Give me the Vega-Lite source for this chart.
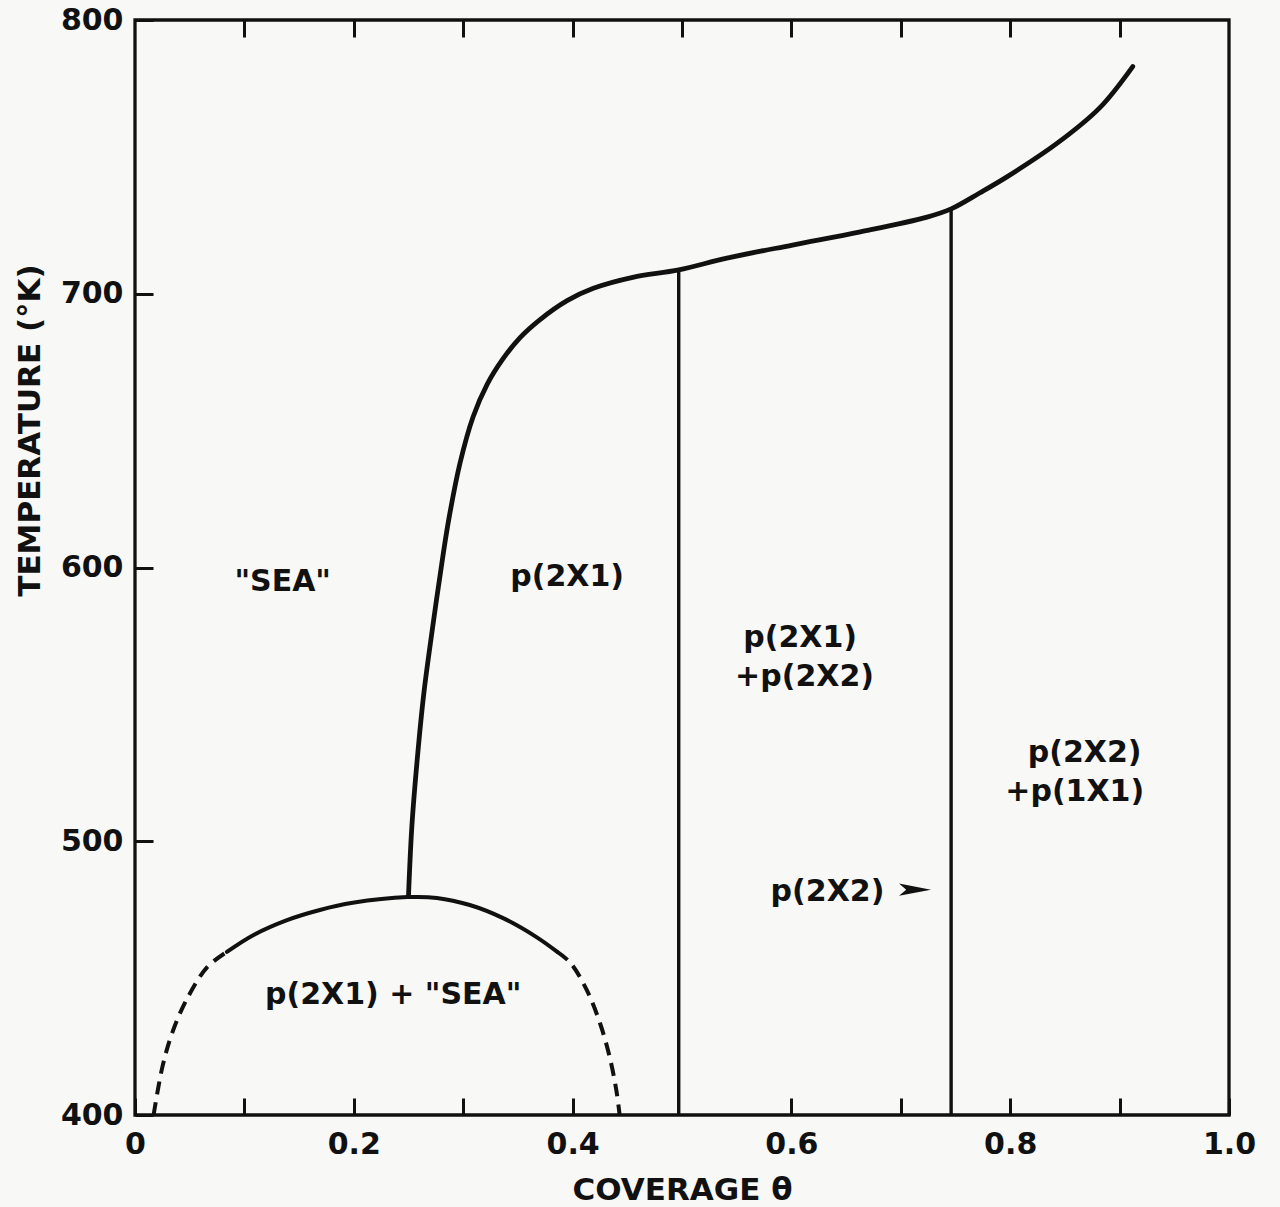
{
  "$schema": "https://vega.github.io/schema/vega-lite/v6.json",
  "width": 1094,
  "height": 1095,
  "autosize": {"type": "none"},
  "padding": {"left": 135, "top": 20, "right": 51, "bottom": 92},
  "background": "#f8f8f6",
  "config": {
    "view": {"stroke": "#111111", "strokeWidth": 3.3},
    "font": "DejaVu Sans",
    "axis": {
      "grid": false,
      "domain": false,
      "tickColor": "#111111",
      "tickWidth": 3,
      "labelColor": "#111111",
      "labelFont": "DejaVu Sans",
      "labelFontWeight": "bold",
      "labelFontSize": 30,
      "labelFlush": false,
      "labelOverlap": false,
      "titleColor": "#111111",
      "titleFont": "DejaVu Sans",
      "titleFontWeight": "bold",
      "titleFontSize": 31
    }
  },
  "resolve": {"axis": {"x": "independent", "y": "independent"}},
  "datasets": {
    "boundary": [
      {"x": 0.25, "t": 480},
      {"x": 0.253, "t": 505},
      {"x": 0.258, "t": 530},
      {"x": 0.264, "t": 554},
      {"x": 0.272, "t": 578},
      {"x": 0.281, "t": 603},
      {"x": 0.287, "t": 618},
      {"x": 0.297, "t": 638},
      {"x": 0.309, "t": 655},
      {"x": 0.322, "t": 667},
      {"x": 0.336, "t": 676},
      {"x": 0.352, "t": 684},
      {"x": 0.37, "t": 690.5},
      {"x": 0.395, "t": 697.5},
      {"x": 0.419, "t": 702},
      {"x": 0.455, "t": 706},
      {"x": 0.497, "t": 708.7},
      {"x": 0.541, "t": 713},
      {"x": 0.601, "t": 717.8},
      {"x": 0.663, "t": 722.6},
      {"x": 0.724, "t": 728},
      {"x": 0.746, "t": 731},
      {"x": 0.772, "t": 736.8},
      {"x": 0.797, "t": 742.7},
      {"x": 0.843, "t": 755},
      {"x": 0.882, "t": 768},
      {"x": 0.912, "t": 783}
    ],
    "dome": [
      {"part": "left", "x": 0.017, "t": 400},
      {"part": "left", "x": 0.025, "t": 417.5},
      {"part": "left", "x": 0.034, "t": 430},
      {"part": "left", "x": 0.047, "t": 442},
      {"part": "left", "x": 0.066, "t": 454},
      {"part": "left", "x": 0.084, "t": 459.6},
      {"part": "top", "x": 0.084, "t": 459.6},
      {"part": "top", "x": 0.108, "t": 465.7},
      {"part": "top", "x": 0.139, "t": 471.2},
      {"part": "top", "x": 0.169, "t": 474.9},
      {"part": "top", "x": 0.199, "t": 477.5},
      {"part": "top", "x": 0.249, "t": 479.6},
      {"part": "top", "x": 0.276, "t": 479.3},
      {"part": "top", "x": 0.306, "t": 476.7},
      {"part": "top", "x": 0.336, "t": 472},
      {"part": "top", "x": 0.367, "t": 465},
      {"part": "top", "x": 0.386, "t": 459.6},
      {"part": "right", "x": 0.386, "t": 459.6},
      {"part": "right", "x": 0.398, "t": 455.6},
      {"part": "right", "x": 0.413, "t": 445.6},
      {"part": "right", "x": 0.425, "t": 433.6},
      {"part": "right", "x": 0.434, "t": 421},
      {"part": "right", "x": 0.44, "t": 409},
      {"part": "right", "x": 0.443, "t": 400}
    ],
    "phaseLines": [
      {"x": 0.497, "t": 400, "t2": 708.7},
      {"x": 0.746, "t": 400, "t2": 731}
    ],
    "regions": [
      {"label": "\"SEA\"", "x": 0.135, "t": 594.7},
      {"label": "p(2X1)", "x": 0.395, "t": 596.5},
      {"label": "p(2X1)", "x": 0.608, "t": 574.2},
      {"label": "+p(2X2)", "x": 0.612, "t": 560},
      {"label": "p(2X2)", "x": 0.868, "t": 532.2},
      {"label": "+p(1X1)", "x": 0.859, "t": 518},
      {"label": "p(2X2)", "x": 0.633, "t": 481.5},
      {"label": "p(2X1) + \"SEA\"", "x": 0.236, "t": 443.8}
    ],
    "pointer": [
      {"x": 0.713, "t": 482.3}
    ]
  },
  "layer": [
    {
      "data": {"name": "boundary"},
      "mark": {"type": "line", "interpolate": "catmull-rom", "color": "#111111", "strokeWidth": 4.8, "strokeCap": "round"},
      "encoding": {
        "x": {
          "field": "x",
          "type": "quantitative",
          "scale": {"domain": [0, 1], "nice": false, "zero": false},
          "axis": {
            "orient": "bottom",
            "values": [0, 0.1, 0.2, 0.3, 0.4, 0.6, 0.7, 0.8, 0.9, 1],
            "labelExpr": "datum.value == 0 ? '0' : (round(datum.value * 10) % 2 == 0 ? format(datum.value, '.1f') : '')",
            "tickSize": -17,
            "labelPadding": 31,
            "title": "COVERAGE   θ",
            "titleY": 84,
            "titleBaseline": "alphabetic"
          }
        },
        "y": {
          "field": "t",
          "type": "quantitative",
          "scale": {"domain": [400, 800], "nice": false, "zero": false},
          "axis": {
            "orient": "left",
            "values": [400, 500, 600, 700, 800],
            "tickSize": -18,
            "labelPadding": 30,
            "labelBaseline": "middle",
            "title": "TEMPERATURE (°K)",
            "titleX": -96,
            "titleY": 410,
            "titleBaseline": "alphabetic",
            "titleAngle": -90
          }
        }
      }
    },
    {
      "data": {"name": "dome"},
      "transform": [{"filter": "datum.part == 'top'"}],
      "mark": {"type": "line", "interpolate": "catmull-rom", "color": "#111111", "strokeWidth": 4, "strokeCap": "round"},
      "encoding": {
        "x": {
          "field": "x",
          "type": "quantitative",
          "axis": {
            "orient": "top",
            "values": [0.1, 0.2, 0.3, 0.4, 0.5, 0.6, 0.7, 0.8, 0.9],
            "labels": false,
            "tickSize": -17,
            "title": null
          }
        },
        "y": {"field": "t", "type": "quantitative", "axis": null}
      }
    },
    {
      "data": {"name": "dome"},
      "transform": [{"filter": "datum.part != 'top'"}],
      "mark": {"type": "line", "interpolate": "catmull-rom", "color": "#111111", "strokeWidth": 4, "strokeDash": [13, 8]},
      "encoding": {
        "x": {"field": "x", "type": "quantitative", "axis": null},
        "y": {"field": "t", "type": "quantitative", "axis": null},
        "detail": {"field": "part"}
      }
    },
    {
      "data": {"name": "phaseLines"},
      "mark": {"type": "rule", "color": "#111111", "strokeWidth": 3.4},
      "encoding": {
        "x": {"field": "x", "type": "quantitative", "axis": null},
        "y": {"field": "t", "type": "quantitative", "axis": null},
        "y2": {"field": "t2"}
      }
    },
    {
      "data": {"name": "regions"},
      "mark": {"type": "text", "font": "DejaVu Sans", "fontWeight": "bold", "fontSize": 30, "color": "#111111", "align": "center", "baseline": "middle"},
      "encoding": {
        "x": {"field": "x", "type": "quantitative", "axis": null},
        "y": {"field": "t", "type": "quantitative", "axis": null},
        "text": {"field": "label"}
      }
    },
    {
      "data": {"name": "pointer"},
      "mark": {"type": "point", "shape": "M -1 -0.38 L 1 0 L -1 0.38 L -0.55 0 Z", "size": 1024, "filled": true, "color": "#111111", "opacity": 1},
      "encoding": {
        "x": {"field": "x", "type": "quantitative", "axis": null},
        "y": {"field": "t", "type": "quantitative", "axis": null}
      }
    }
  ]
}
